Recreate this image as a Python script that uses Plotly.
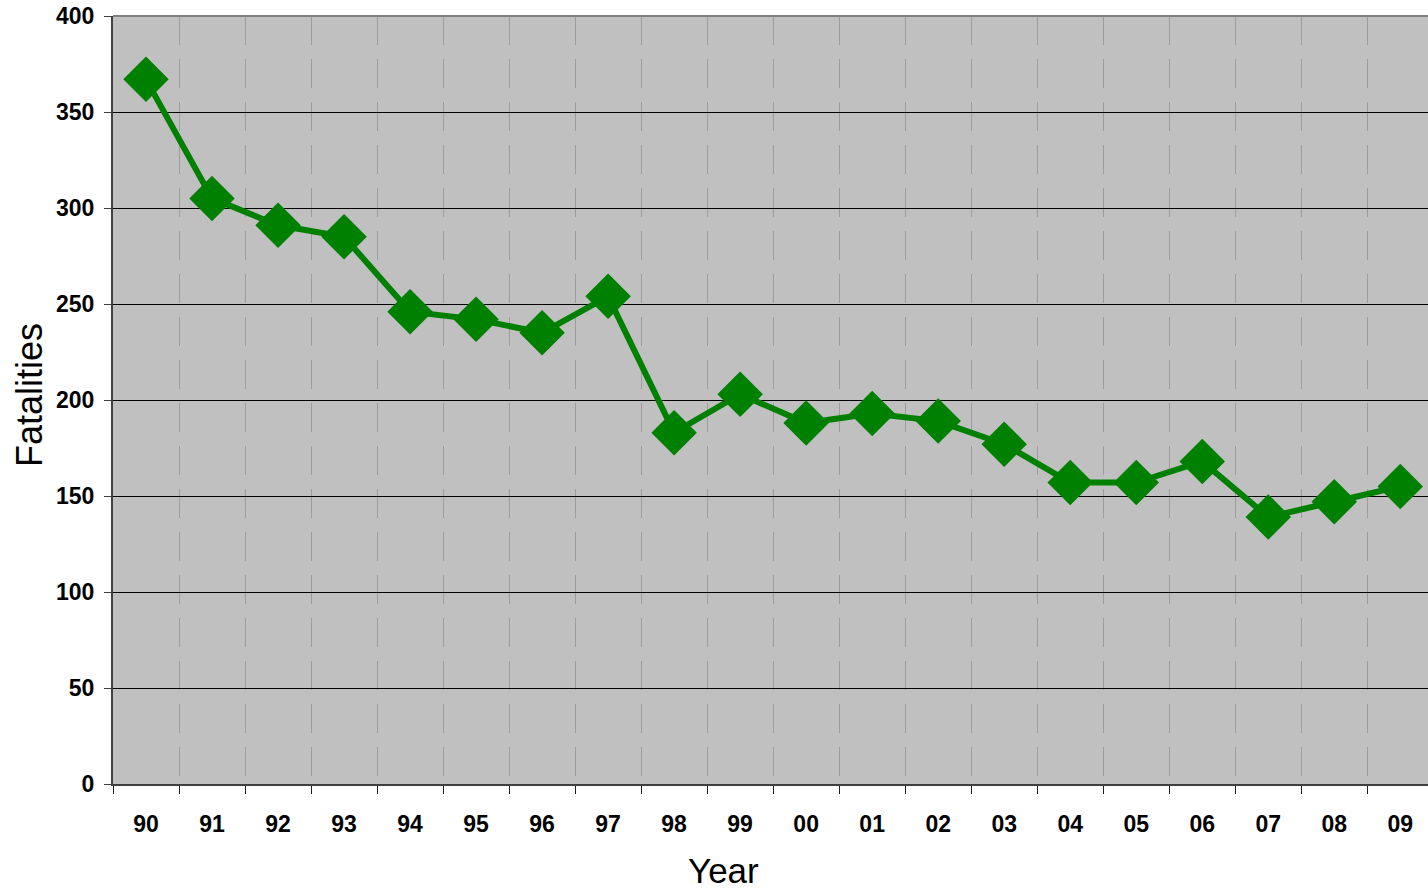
import plotly.graph_objects as go

# Fatalities per year, 1990-2009
years = ["90", "91", "92", "93", "94", "95", "96", "97", "98", "99",
         "00", "01", "02", "03", "04", "05", "06", "07", "08", "09"]
fatalities = [367, 305, 291, 285, 246, 242, 235, 254, 183, 203,
              188, 193, 189, 177, 157, 157, 168, 139, 147, 155]
y_ticks = [0, 50, 100, 150, 200, 250, 300, 350, 400]

FONT = "Liberation Sans, Arial, sans-serif"
GREEN = "#008000"

fig = go.Figure()
fig.add_trace(go.Scatter(
    x=years,
    y=fatalities,
    mode="lines+markers",
    line=dict(color=GREEN, width=6),
    marker=dict(symbol="diamond", size=35, color=GREEN),
    cliponaxis=False,
    hoverinfo="x+y",
))

fig.update_layout(
    width=1428,
    height=890,
    margin=dict(l=113, r=0, t=16, b=106),
    paper_bgcolor="white",
    plot_bgcolor="#C0C0C0",
    showlegend=False,
    font=dict(family=FONT, color="black"),
    xaxis=dict(
        type="category",
        categoryorder="array",
        categoryarray=years,
        range=[-0.5, 19.42],
        tickson="boundaries",
        ticks="outside",
        ticklen=8,
        tickwidth=1,
        tickcolor="#202020",
        showgrid=True,
        gridcolor="#9C9C9C",
        gridwidth=1,
        griddash="29px,14px",
        showline=True,
        linecolor="#404040",
        linewidth=2,
        tickfont=dict(family=FONT, size=23, color="black", weight="bold"),
        ticklabelstandoff=18,
        fixedrange=True,
    ),
    yaxis=dict(
        range=[0, 400],
        tickmode="array",
        tickvals=y_ticks,
        ticktext=[str(v) for v in y_ticks],
        ticks="outside",
        ticklen=7,
        tickwidth=1,
        tickcolor="#404040",
        showgrid=True,
        gridcolor="black",
        gridwidth=1,
        zeroline=False,
        showline=True,
        linecolor="#404040",
        linewidth=2,
        tickfont=dict(family=FONT, size=23, color="black", weight="bold"),
        ticklabelstandoff=5,
        fixedrange=True,
    ),
    shapes=[
        dict(type="line", xref="paper", yref="paper", x0=0, x1=1, y0=1, y1=1,
             line=dict(color="#808080", width=2)),
    ],
    annotations=[
        dict(text="Year", xref="paper", yref="paper", x=0.4639, y=-0.112,
             xanchor="center", yanchor="middle", showarrow=False,
             font=dict(family=FONT, size=35, color="black")),
        dict(text="Fatalities", xref="paper", yref="paper", x=-0.0639, y=0.5065,
             xanchor="center", yanchor="middle", textangle=-90, showarrow=False,
             font=dict(family=FONT, size=36, color="black")),
    ],
)

fig.write_html("out.html")
